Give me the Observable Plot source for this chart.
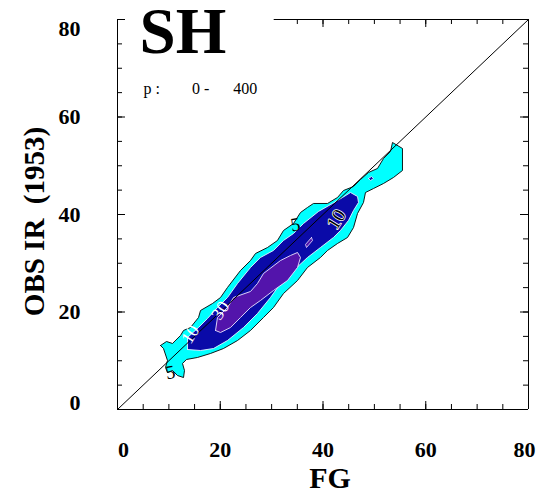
<!DOCTYPE html>
<html>
<head>
<meta charset="utf-8">
<script src="https://cdn.jsdelivr.net/npm/d3@7"></script>
<script src="https://cdn.jsdelivr.net/npm/@observablehq/plot@0.6"></script>
<style>
  html, body { margin: 0; padding: 0; background: #fff; overflow: hidden; }
</style>
</head>
<body>
<div id="chart"></div>
<script>
// ---- axis ticks ----
const majorTicks = [0, 20, 40, 60, 80];
const minorTicks = [0, 5, 10, 15, 20, 25, 30, 35, 40, 45, 50, 55, 60, 65, 70, 75, 80];

// ---- reference line y = x ----
const diagonal = [[0, 0], [80, 80]];

// ---- contour level 5 (outer, FG vs OBS IR) ----
const level5 = [
  [8.37,13.13],[9.54,13.95],[10.71,13.54],[12.26,15.18],[12.85,16.21],[14.21,16.82],
  [15.77,18.87],[16.16,20.31],[18.49,21.74],[20.05,22.97],[21.41,25.03],[23.94,28.51],
  [25.89,30.56],[26.86,32.0],[29.2,33.23],[31.14,34.67],[32.31,36.72],[34.26,38.15],
  [35.62,40.41],[36.98,41.44],[38.15,42.26],[40.88,42.26],[42.82,43.49],[43.99,44.92],
  [45.94,45.74],[47.3,47.18],[48.86,48.62],[50.61,49.44],[51.78,51.49],[53.14,52.92],
  [53.53,54.77],[55.47,53.54],[55.47,49.03],[53.72,47.59],[51.78,46.36],[49.83,45.33],
  [48.27,44.51],[47.88,42.46],[46.72,40.21],[45.94,37.33],[44.77,35.28],[42.82,34.05],
  [40.88,32.62],[39.51,31.18],[36.98,29.13],[35.04,26.46],[32.31,23.79],[30.36,20.92],
  [28.42,18.87],[25.89,16.21],[23.36,14.15],[20.63,12.51],[18.1,11.49],[15.57,10.67],
  [13.43,10.26],[12.65,9.44],[13.04,8.0],[12.85,6.56],[11.68,6.97],[10.71,8.0],
  [9.73,7.59],[9.34,8.62],[9.73,10.05],[8.95,12.51]
];

// ---- contour level 10 ----
const level10 = [
  [13.63,12.31],[13.63,14.77],[15.77,16.82],[17.52,18.67],[19.46,20.92],[21.41,22.97],
  [23.36,25.85],[25.89,29.13],[27.83,31.18],[30.36,32.62],[32.31,34.67],[34.26,36.1],
  [36.2,38.15],[39.12,40.62],[41.85,42.26],[43.8,43.49],[45.35,44.51],[46.72,43.69],
  [46.91,42.46],[45.94,40.82],[44.96,38.77],[43.41,36.72],[42.04,35.28],[39.51,33.23],
  [36.98,31.18],[34.26,28.51],[31.73,25.85],[29.78,22.97],[27.25,19.69],[24.53,16.82],
  [21.41,14.15],[18.69,12.51],[16.16,12.1]
];
const level10Island = [[48.86,47.38],[49.44,47.79],[49.83,47.38],[49.25,46.97]];

// ---- contour level 30 ----
const level30 = [
  [19.08,16.21],[19.46,18.87],[21.41,20.92],[22.58,22.97],[25.89,24.21],[27.25,25.85],
  [28.42,27.9],[31.73,30.56],[33.67,31.59],[35.04,32.21],[35.62,31.18],[35.04,29.13],
  [33.09,26.46],[30.36,24.41],[27.83,22.36],[25.89,20.92],[23.94,18.87],[22.0,16.82],
  [20.05,15.79]
];
const level30Island = [[37.76,35.28],[37.96,34.67],[36.79,33.23],[36.59,33.85]];

// ---- contour labels ----
const labelsBlack = [{x: 10.3, y: 7.6, text: "5"}, {x: 34.6, y: 37.9, text: "5"}];
const labelsBlackHalo = [{x: 42.6, y: 39.0, text: "10"}];
const labelsWhite = [{x: 14.2, y: 15.4, text: "10"}, {x: 20.0, y: 20.3, text: "30"}];

// ---- texts ----
const title = "SH";
const rangeText = "p :\u00a0\u00a0\u00a0\u00a0\u00a0\u00a0\u00a0 0 -\u00a0\u00a0\u00a0\u00a0\u00a0 400";
const xTitle = "FG";
const yTitle = "OBS IR\u00a0 (1953)";
const titleBoxRight = 30.5; // the title's white box hides the top frame left of this FG value

const closed = pts => [...pts, pts[0]];
const serif = "'Liberation Serif', 'Times New Roman', Times, serif";
const W = 545, H = 495, mL = 117, mR = 17, mT = 19, mB = 86;
const fw = W - mL - mR, fh = H - mT - mB;
const minorLen = 5, majorLen = 8;
const topTicks = minorTicks.filter(d => d > titleBoxRight);
const topMajor = majorTicks.filter(d => d > titleBoxRight);

const chart = Plot.plot({
  width: W, height: H,
  marginLeft: mL, marginRight: mR, marginTop: mT, marginBottom: mB,
  x: {domain: [0, 80], axis: null},
  y: {domain: [0, 80], axis: null},
  style: {fontFamily: serif, background: "white", color: "black"},
  marks: [
    Plot.line(closed(level5), {fill: "#00ffff", stroke: "black", strokeWidth: 0.9}),
    Plot.line(closed(level10), {fill: "#0a0aa8", stroke: "#e8f4ff", strokeWidth: 0.9}),
    Plot.line(closed(level10Island), {fill: "#0a0aa8", stroke: "#e8f4ff", strokeWidth: 0.8}),
    Plot.line(closed(level30), {fill: "#5314ab", stroke: "#ece4ff", strokeWidth: 0.9}),
    Plot.line(closed(level30Island), {fill: "#5314ab", stroke: "#ece4ff", strokeWidth: 0.8}),
    Plot.line(diagonal, {stroke: "black", strokeWidth: 1}),
    Plot.text(labelsBlack, {x: "x", y: "y", text: "text", fill: "black", fontSize: 19, rotate: -10}),
    Plot.text(labelsBlackHalo, {x: "x", y: "y", text: "text", fill: "black", stroke: "white", strokeWidth: 1.5, fontSize: 19, rotate: -58}),
    Plot.text(labelsWhite, {x: "x", y: "y", text: "text", fill: "white", fontSize: 18, rotate: -58}),
    // frame
    Plot.ruleX([0, 80], {stroke: "black", strokeWidth: 1}),
    Plot.ruleY([0], {stroke: "black", strokeWidth: 1.2}),
    Plot.ruleY([80], {x1: titleBoxRight, x2: 80, stroke: "black", strokeWidth: 1}),
    // inward ticks
    Plot.tickX(minorTicks, {x: d => d, insetTop: fh - minorLen, stroke: "black"}),
    Plot.tickX(majorTicks, {x: d => d, insetTop: fh - majorLen, stroke: "black"}),
    Plot.tickX(topTicks, {x: d => d, insetBottom: fh - minorLen, stroke: "black"}),
    Plot.tickX(topMajor, {x: d => d, insetBottom: fh - majorLen, stroke: "black"}),
    Plot.tickY(minorTicks, {y: d => d, insetRight: fw - minorLen, stroke: "black"}),
    Plot.tickY(majorTicks, {y: d => d, insetRight: fw - majorLen, stroke: "black"}),
    Plot.tickY(minorTicks, {y: d => d, insetLeft: fw - minorLen, stroke: "black"}),
    Plot.tickY(majorTicks, {y: d => d, insetLeft: fw - majorLen, stroke: "black"}),
    // tick labels
    Plot.axisX(majorTicks.slice(1, -1), {anchor: "bottom", tickSize: 0, tickPadding: 32, fontSize: 22, fontWeight: "bold", label: null}),
    Plot.axisX(majorTicks.slice(0, 1), {anchor: "bottom", tickSize: 0, tickPadding: 32, fontSize: 22, fontWeight: "bold", label: null, dx: 6}),
    Plot.axisX(majorTicks.slice(-1), {anchor: "bottom", tickSize: 0, tickPadding: 32, fontSize: 22, fontWeight: "bold", label: null, dx: -4}),
    Plot.axisY(majorTicks.slice(1, -1), {anchor: "left", tickSize: 0, tickPadding: 37, fontSize: 22, fontWeight: "bold", label: null}),
    Plot.axisY(majorTicks.slice(0, 1), {anchor: "left", tickSize: 0, tickPadding: 37, fontSize: 22, fontWeight: "bold", label: null, dy: -7}),
    Plot.axisY(majorTicks.slice(-1), {anchor: "left", tickSize: 0, tickPadding: 37, fontSize: 22, fontWeight: "bold", label: null, dy: 9}),
    // titles
    Plot.text([xTitle], {frameAnchor: "bottom", textAnchor: "middle", lineAnchor: "middle", dx: 7, dy: 69, fontSize: 30, fontWeight: "bold"}),
    Plot.text([yTitle], {frameAnchor: "left", textAnchor: "middle", lineAnchor: "middle", dx: -83, dy: 7, rotate: -90, fontSize: 29, fontWeight: "bold"}),
    Plot.text([title], {frameAnchor: "top-left", textAnchor: "start", lineAnchor: "top", dx: 22, dy: -13, fontSize: 65, fontWeight: "bold"}),
    Plot.text([rangeText], {frameAnchor: "top-left", textAnchor: "start", lineAnchor: "middle", dx: 26, dy: 69, fontSize: 16})
  ]
});
document.getElementById("chart").appendChild(chart);
</script>
</body>
</html>
